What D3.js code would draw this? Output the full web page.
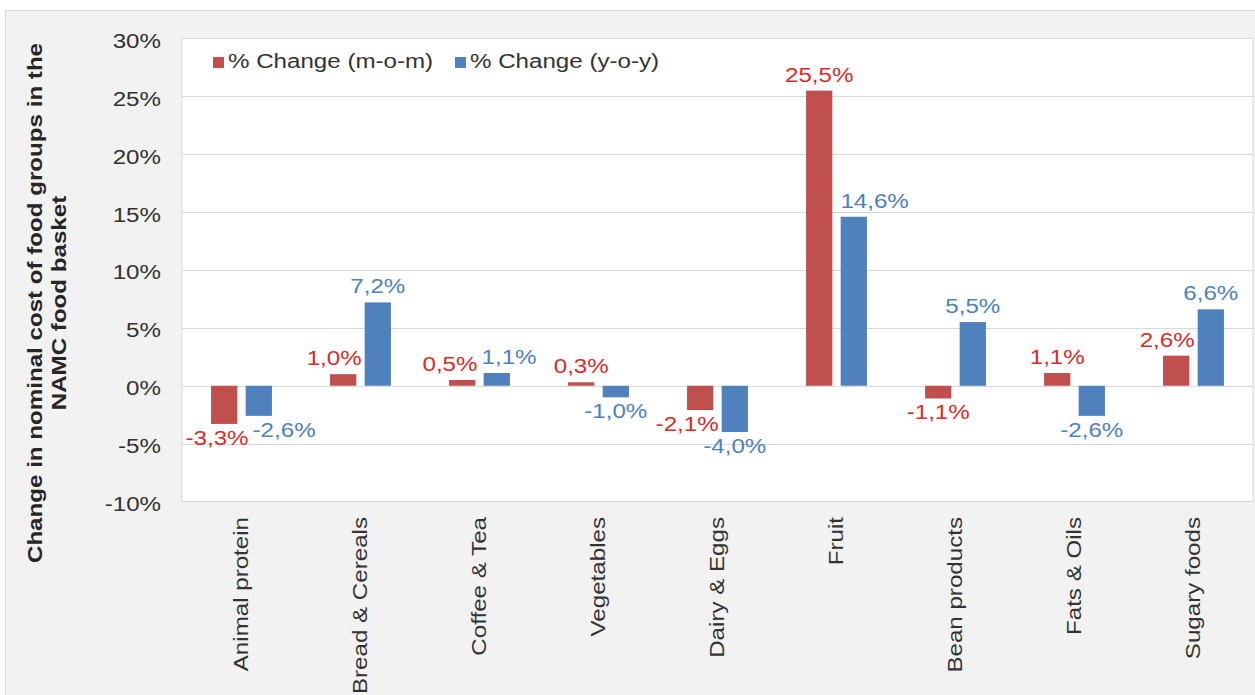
<!DOCTYPE html>
<html>
<head>
<meta charset="utf-8">
<script src="https://cdn.jsdelivr.net/npm/d3@7"></script>
<style>
  body { margin: 0; background: #fff; }
  text { font-family: "Liberation Sans", Arial, sans-serif; }
</style>
</head>
<body>
<div id="chart"></div>
<script>
// Chart data
const categories = ["Animal protein", "Bread & Cereals", "Coffee & Tea", "Vegetables", "Dairy & Eggs",
    "Fruit", "Bean products", "Fats & Oils", "Sugary foods"];
const seriesNames = ["% Change (m-o-m)", "% Change (y-o-y)"];
const momValues = [-3.3, 1.0, 0.5, 0.3, -2.1, 25.5, -1.1, 1.1, 2.6];
const yoyValues = [-2.6, 7.2, 1.1, -1.0, -4.0, 14.6, 5.5, -2.6, 6.6];
const yTicks = [-10, -5, 0, 5, 10, 15, 20, 25, 30];
const yTitle = ["Change in nominal cost of food groups in the", "NAMC food basket"];

const width = 1255, height = 695;
const plot = {left: 182, top: 38.5, right: 1253, bottom: 501.5};
const barColors = ["#c0504d", "#4f81bd"];
const labelColors = ["#d92b2b", "#4f81bd"];
const fs = 21, stretch = 1.15;   // glyphs in the picture are a bit wider than Arial

// comma decimals, plain hyphen for minus
const locale = d3.formatLocale({decimal: ",", thousands: ".", grouping: [3], currency: ["", ""], minus: "-"});
const fmt = v => locale.format(".1f")(v) + "%";

const svg = d3.select("#chart")
    .append("svg")
    .attr("width", width)
    .attr("height", height);

// chart area
svg.append("rect")
    .attr("x", 5.5).attr("y", 10.5)
    .attr("width", width).attr("height", height)
    .attr("fill", "#f2f2f2")
    .attr("stroke", "#d9d9d9");

// plot area
svg.append("rect")
    .attr("x", plot.left).attr("y", plot.top)
    .attr("width", plot.right - plot.left).attr("height", plot.bottom - plot.top)
    .attr("fill", "#fff")
    .attr("stroke", "#d9d9d9");

const x0 = d3.scaleBand().domain(categories).range([plot.left, plot.right]);
const x1 = d3.scaleBand().domain([0, 1]).range([0, x0.bandwidth()])
    .paddingInner(0.24).paddingOuter(0.84);
const y = d3.scaleLinear().domain([-10, 30]).range([plot.bottom, plot.top]);

// gridlines
svg.append("g")
    .selectAll("line")
    .data(yTicks.slice(1, -1))
    .join("line")
    .attr("x1", plot.left).attr("x2", plot.right)
    .attr("y1", d => Math.round(y(d)) + 0.5).attr("y2", d => Math.round(y(d)) + 0.5)
    .attr("stroke", "#d9d9d9");

// y tick labels
svg.append("g")
    .selectAll("text")
    .data(yTicks)
    .join("text")
    .attr("transform", d => `translate(161,${y(d)}) scale(${stretch},1)`)
    .attr("dy", "0.45em")
    .attr("text-anchor", "end")
    .style("font-size", fs + "px")
    .attr("fill", "#333")
    .text(d => d + "%");

// bars
const rows = categories.map((c, i) => ({cat: c, vals: [momValues[i], yoyValues[i]]}));

const group = svg.append("g")
    .selectAll("g")
    .data(rows)
    .join("g")
    .attr("transform", d => `translate(${x0(d.cat)},0)`);

group.selectAll("rect")
    .data(d => d.vals.map((v, s) => ({v, s})))
    .join("rect")
    .attr("x", d => x1(d.s))
    .attr("width", x1.bandwidth())
    .attr("y", d => y(Math.max(0, d.v)))
    .attr("height", d => Math.abs(y(d.v) - y(0)))
    .attr("fill", d => barColors[d.s]);

// value labels: centred on the bar, moved off the neighbour bar and off each other
group.each(function(row) {
    const g = d3.select(this);
    const bw = x1.bandwidth();
    const labels = row.vals.map((v, s) => {
        const t = g.append("text")
            .style("font-size", fs + "px")
            .attr("text-anchor", "middle")
            .attr("fill", labelColors[s])
            .text(fmt(v));
        return {
            t, s,
            cx: x1(s) + bw / 2,
            by: v >= 0 ? y(v) - 9 : y(v) + 21,
            w: t.node().getComputedTextLength() * stretch
        };
    });

    labels.forEach(l => {
        const o = 1 - l.s;
        const top = Math.min(y(row.vals[o]), y(0)), bot = Math.max(y(row.vals[o]), y(0));
        if (l.by - 15 > bot || l.by < top) return;
        if (l.s === 0) {
            const lim = x1(o) - 3;
            if (l.cx + l.w / 2 > lim) l.cx = lim - l.w / 2;
        } else {
            const lim = x1(o) + bw + 8;
            if (l.cx - l.w / 2 < lim) l.cx = lim + l.w / 2;
        }
    });

    const [a, b] = labels;
    const overlap = (a.cx + a.w / 2 + 4) - (b.cx - b.w / 2);
    if (Math.abs(a.by - b.by) < 18 && overlap > 0) {
        a.cx -= overlap / 2;
        b.cx += overlap / 2;
    }
    labels.forEach(l => l.t.attr("transform", `translate(${l.cx},${l.by}) scale(${stretch},1)`));
});

// category labels
svg.append("g")
    .selectAll("text")
    .data(categories)
    .join("text")
    .attr("transform", d => `translate(${x0(d) + x0.bandwidth() / 2},517) rotate(-90) scale(${stretch},1)`)
    .attr("dy", "0.3em")
    .attr("text-anchor", "end")
    .style("font-size", fs + "px")
    .attr("fill", "#333")
    .text(d => d);

// axis title
svg.append("g")
    .selectAll("text")
    .data(yTitle)
    .join("text")
    .attr("transform", (d, i) => `translate(${42 + i * 24},303) rotate(-90) scale(${stretch},1)`)
    .attr("text-anchor", "middle")
    .style("font-size", fs + "px")
    .style("font-weight", "bold")
    .attr("fill", "#262626")
    .text(d => d);

// legend
const legend = svg.append("g")
    .selectAll("g")
    .data(seriesNames)
    .join("g")
    .attr("transform", (d, i) => `translate(${213 + i * 242},57)`);

legend.append("rect")
    .attr("width", 11).attr("height", 11)
    .attr("fill", (d, i) => barColors[i]);

legend.append("text")
    .attr("transform", `translate(15,11) scale(${stretch},1)`)
    .style("font-size", fs + "px")
    .attr("fill", "#333")
    .text(d => d);
</script>
</body>
</html>
